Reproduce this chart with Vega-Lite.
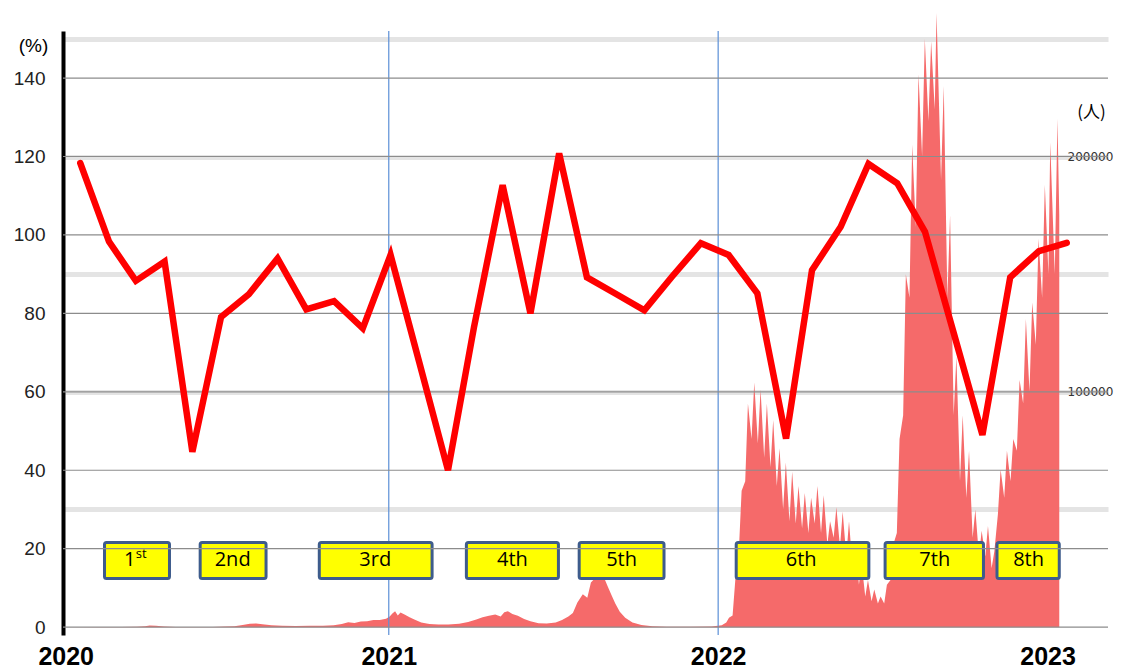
{
  "$schema": "https://vega.github.io/schema/vega-lite/v6.json",
  "width": 1045,
  "height": 604,
  "autosize": {"type": "none"},
  "padding": {"left": 63, "top": 31, "right": 14, "bottom": 36},
  "background": "white",
  "config": {"view": {"stroke": null}},
  "datasets": {
    "cases": [
      {"date": "2020-01-06", "cases": 0},
      {"date": "2020-02-15", "cases": 20},
      {"date": "2020-03-10", "cases": 60},
      {"date": "2020-03-28", "cases": 200},
      {"date": "2020-04-06", "cases": 400},
      {"date": "2020-04-11", "cases": 700},
      {"date": "2020-04-18", "cases": 550},
      {"date": "2020-04-27", "cases": 250},
      {"date": "2020-05-10", "cases": 80},
      {"date": "2020-06-01", "cases": 40},
      {"date": "2020-06-20", "cases": 60},
      {"date": "2020-07-04", "cases": 250},
      {"date": "2020-07-14", "cases": 400},
      {"date": "2020-07-23", "cases": 950},
      {"date": "2020-07-31", "cases": 1500},
      {"date": "2020-08-07", "cases": 1550},
      {"date": "2020-08-14", "cases": 1200},
      {"date": "2020-08-24", "cases": 800},
      {"date": "2020-09-05", "cases": 600},
      {"date": "2020-09-20", "cases": 500},
      {"date": "2020-10-05", "cases": 550},
      {"date": "2020-10-20", "cases": 650},
      {"date": "2020-11-01", "cases": 800},
      {"date": "2020-11-10", "cases": 1300},
      {"date": "2020-11-17", "cases": 2100},
      {"date": "2020-11-24", "cases": 1800},
      {"date": "2020-12-01", "cases": 2400},
      {"date": "2020-12-08", "cases": 2500},
      {"date": "2020-12-15", "cases": 3000},
      {"date": "2020-12-22", "cases": 3000},
      {"date": "2020-12-29", "cases": 3600},
      {"date": "2021-01-02", "cases": 4500},
      {"date": "2021-01-05", "cases": 5800},
      {"date": "2021-01-08", "cases": 6800},
      {"date": "2021-01-11", "cases": 5000},
      {"date": "2021-01-14", "cases": 6200},
      {"date": "2021-01-19", "cases": 5300},
      {"date": "2021-01-24", "cases": 4200},
      {"date": "2021-01-30", "cases": 3200},
      {"date": "2021-02-06", "cases": 2000},
      {"date": "2021-02-15", "cases": 1300},
      {"date": "2021-02-25", "cases": 1100},
      {"date": "2021-03-08", "cases": 1100},
      {"date": "2021-03-20", "cases": 1500},
      {"date": "2021-03-30", "cases": 2200},
      {"date": "2021-04-08", "cases": 3300},
      {"date": "2021-04-15", "cases": 4200},
      {"date": "2021-04-22", "cases": 4800},
      {"date": "2021-04-29", "cases": 5400},
      {"date": "2021-05-05", "cases": 4500},
      {"date": "2021-05-09", "cases": 6300},
      {"date": "2021-05-13", "cases": 6800},
      {"date": "2021-05-18", "cases": 5600},
      {"date": "2021-05-24", "cases": 4800},
      {"date": "2021-05-31", "cases": 3500},
      {"date": "2021-06-07", "cases": 2500},
      {"date": "2021-06-16", "cases": 1700},
      {"date": "2021-06-25", "cases": 1600},
      {"date": "2021-07-05", "cases": 2000},
      {"date": "2021-07-12", "cases": 3000},
      {"date": "2021-07-19", "cases": 4500},
      {"date": "2021-07-24", "cases": 6000},
      {"date": "2021-07-29", "cases": 10500},
      {"date": "2021-08-04", "cases": 14000},
      {"date": "2021-08-09", "cases": 12500},
      {"date": "2021-08-13", "cases": 19000},
      {"date": "2021-08-18", "cases": 21000},
      {"date": "2021-08-21", "cases": 20000},
      {"date": "2021-08-24", "cases": 23500},
      {"date": "2021-08-27", "cases": 21500},
      {"date": "2021-09-01", "cases": 17000},
      {"date": "2021-09-05", "cases": 13500},
      {"date": "2021-09-09", "cases": 10000},
      {"date": "2021-09-14", "cases": 6500},
      {"date": "2021-09-20", "cases": 4000},
      {"date": "2021-09-28", "cases": 2000},
      {"date": "2021-10-08", "cases": 900},
      {"date": "2021-10-20", "cases": 400},
      {"date": "2021-11-05", "cases": 200},
      {"date": "2021-12-01", "cases": 150},
      {"date": "2021-12-25", "cases": 300},
      {"date": "2022-01-05", "cases": 800},
      {"date": "2022-01-10", "cases": 2000},
      {"date": "2022-01-13", "cases": 4000},
      {"date": "2022-01-17", "cases": 5000},
      {"date": "2022-01-20", "cases": 20000},
      {"date": "2022-01-24", "cases": 33000},
      {"date": "2022-01-27", "cases": 58000},
      {"date": "2022-01-31", "cases": 62000},
      {"date": "2022-02-03", "cases": 95000},
      {"date": "2022-02-07", "cases": 80000},
      {"date": "2022-02-10", "cases": 104000},
      {"date": "2022-02-14", "cases": 78000},
      {"date": "2022-02-17", "cases": 101000},
      {"date": "2022-02-21", "cases": 72000},
      {"date": "2022-02-24", "cases": 95000},
      {"date": "2022-02-28", "cases": 68000},
      {"date": "2022-03-03", "cases": 88000},
      {"date": "2022-03-07", "cases": 60000},
      {"date": "2022-03-10", "cases": 76000},
      {"date": "2022-03-14", "cases": 50000},
      {"date": "2022-03-17", "cases": 70000},
      {"date": "2022-03-21", "cases": 45000},
      {"date": "2022-03-24", "cases": 66000},
      {"date": "2022-03-28", "cases": 44000},
      {"date": "2022-03-31", "cases": 60000},
      {"date": "2022-04-04", "cases": 42000},
      {"date": "2022-04-07", "cases": 57000},
      {"date": "2022-04-11", "cases": 40000},
      {"date": "2022-04-14", "cases": 55000},
      {"date": "2022-04-18", "cases": 44000},
      {"date": "2022-04-21", "cases": 60000},
      {"date": "2022-04-25", "cases": 40000},
      {"date": "2022-04-28", "cases": 56000},
      {"date": "2022-05-02", "cases": 35000},
      {"date": "2022-05-05", "cases": 45000},
      {"date": "2022-05-09", "cases": 38000},
      {"date": "2022-05-12", "cases": 51000},
      {"date": "2022-05-16", "cases": 34000},
      {"date": "2022-05-19", "cases": 49000},
      {"date": "2022-05-23", "cases": 30000},
      {"date": "2022-05-26", "cases": 45000},
      {"date": "2022-05-30", "cases": 25000},
      {"date": "2022-06-02", "cases": 36000},
      {"date": "2022-06-06", "cases": 18000},
      {"date": "2022-06-09", "cases": 27000},
      {"date": "2022-06-13", "cases": 13000},
      {"date": "2022-06-16", "cases": 20000},
      {"date": "2022-06-20", "cases": 11000},
      {"date": "2022-06-23", "cases": 16000},
      {"date": "2022-06-27", "cases": 10000},
      {"date": "2022-06-30", "cases": 13000},
      {"date": "2022-07-04", "cases": 10000},
      {"date": "2022-07-07", "cases": 18000},
      {"date": "2022-07-11", "cases": 20000},
      {"date": "2022-07-14", "cases": 35000},
      {"date": "2022-07-18", "cases": 40000},
      {"date": "2022-07-21", "cases": 80000},
      {"date": "2022-07-25", "cases": 90000},
      {"date": "2022-07-28", "cases": 150000},
      {"date": "2022-08-01", "cases": 140000},
      {"date": "2022-08-04", "cases": 205000},
      {"date": "2022-08-08", "cases": 170000},
      {"date": "2022-08-11", "cases": 235000},
      {"date": "2022-08-15", "cases": 200000},
      {"date": "2022-08-18", "cases": 250000},
      {"date": "2022-08-22", "cases": 215000},
      {"date": "2022-08-25", "cases": 249000},
      {"date": "2022-08-29", "cases": 220000},
      {"date": "2022-08-31", "cases": 261000},
      {"date": "2022-09-05", "cases": 190000},
      {"date": "2022-09-08", "cases": 230000},
      {"date": "2022-09-12", "cases": 140000},
      {"date": "2022-09-15", "cases": 175000},
      {"date": "2022-09-19", "cases": 90000},
      {"date": "2022-09-22", "cases": 115000},
      {"date": "2022-09-26", "cases": 62000},
      {"date": "2022-09-29", "cases": 90000},
      {"date": "2022-10-03", "cases": 55000},
      {"date": "2022-10-06", "cases": 75000},
      {"date": "2022-10-10", "cases": 38000},
      {"date": "2022-10-13", "cases": 50000},
      {"date": "2022-10-17", "cases": 30000},
      {"date": "2022-10-20", "cases": 41000},
      {"date": "2022-10-24", "cases": 30000},
      {"date": "2022-10-27", "cases": 43000},
      {"date": "2022-10-31", "cases": 25000},
      {"date": "2022-11-03", "cases": 32000},
      {"date": "2022-11-07", "cases": 48000},
      {"date": "2022-11-10", "cases": 67000},
      {"date": "2022-11-14", "cases": 55000},
      {"date": "2022-11-17", "cases": 75000},
      {"date": "2022-11-21", "cases": 62000},
      {"date": "2022-11-24", "cases": 80000},
      {"date": "2022-11-28", "cases": 75000},
      {"date": "2022-12-01", "cases": 105000},
      {"date": "2022-12-05", "cases": 95000},
      {"date": "2022-12-08", "cases": 131000},
      {"date": "2022-12-12", "cases": 100000},
      {"date": "2022-12-15", "cases": 138000},
      {"date": "2022-12-19", "cases": 120000},
      {"date": "2022-12-22", "cases": 165000},
      {"date": "2022-12-26", "cases": 140000},
      {"date": "2022-12-29", "cases": 188000},
      {"date": "2023-01-02", "cases": 150000},
      {"date": "2023-01-04", "cases": 206000},
      {"date": "2023-01-09", "cases": 150000},
      {"date": "2023-01-12", "cases": 216000},
      {"date": "2023-01-14", "cases": 175000}
    ],
    "ratio": [
      {"month": "2020-01-01", "pct": 118.3},
      {"month": "2020-02-01", "pct": 98.3},
      {"month": "2020-03-01", "pct": 88.3},
      {"month": "2020-04-01", "pct": 93.2},
      {"month": "2020-05-01", "pct": 44.7},
      {"month": "2020-06-01", "pct": 79.1},
      {"month": "2020-07-01", "pct": 84.9},
      {"month": "2020-08-01", "pct": 94.0},
      {"month": "2020-09-01", "pct": 81.0},
      {"month": "2020-10-01", "pct": 83.1},
      {"month": "2020-11-01", "pct": 76.2},
      {"month": "2020-12-01", "pct": 94.9},
      {"month": "2021-01-01", "pct": 67.5},
      {"month": "2021-02-01", "pct": 40.0},
      {"month": "2021-03-01", "pct": 76.4},
      {"month": "2021-04-01", "pct": 112.7},
      {"month": "2021-05-01", "pct": 80.0},
      {"month": "2021-06-01", "pct": 120.8},
      {"month": "2021-07-01", "pct": 89.2},
      {"month": "2021-08-01", "pct": 85.0},
      {"month": "2021-09-01", "pct": 80.8},
      {"month": "2021-10-01", "pct": 89.4},
      {"month": "2021-11-01", "pct": 97.9},
      {"month": "2021-12-01", "pct": 94.9},
      {"month": "2022-01-01", "pct": 85.1},
      {"month": "2022-02-01", "pct": 48.1},
      {"month": "2022-03-01", "pct": 91.0},
      {"month": "2022-04-01", "pct": 102.1},
      {"month": "2022-05-01", "pct": 118.1},
      {"month": "2022-06-01", "pct": 113.2},
      {"month": "2022-07-01", "pct": 100.8},
      {"month": "2022-08-01", "pct": 75.0},
      {"month": "2022-09-01", "pct": 49.0},
      {"month": "2022-10-01", "pct": 89.2},
      {"month": "2022-11-01", "pct": 95.9},
      {"month": "2022-12-01", "pct": 98.0}
    ],
    "waves": [
      {"label": "1", "sup": "st", "start": "2020-02-21", "end": "2020-05-03", "mid": "2020-03-20"},
      {"label": "2nd", "sup": "", "start": "2020-06-06", "end": "2020-08-18", "mid": "2020-07-12"},
      {"label": "3rd", "sup": "", "start": "2020-10-16", "end": "2021-02-18", "mid": "2020-12-17"},
      {"label": "4th", "sup": "", "start": "2021-03-28", "end": "2021-07-08", "mid": "2021-05-18"},
      {"label": "5th", "sup": "", "start": "2021-07-31", "end": "2021-11-02", "mid": "2021-09-16"},
      {"label": "6th", "sup": "", "start": "2022-01-21", "end": "2022-06-17", "mid": "2022-04-03"},
      {"label": "7th", "sup": "", "start": "2022-07-05", "end": "2022-10-22", "mid": "2022-08-29"},
      {"label": "8th", "sup": "", "start": "2022-11-06", "end": "2023-01-14", "mid": "2022-12-11"}
    ],
    "grid": [{"v": 0}, {"v": 20}, {"v": 40}, {"v": 60}, {"v": 80}, {"v": 100}, {"v": 120}, {"v": 140}],
    "years": [{"d": "2021-01-01"}, {"d": "2022-01-01"}]
  },
  "layer": [
    {
      "data": {"name": "cases"},
      "mark": {"type": "area", "color": "#f56a6a", "interpolate": "linear"},
      "encoding": {
        "x": {
          "field": "date", "type": "temporal",
          "scale": {"type": "utc", "domain": [{"year": 2020, "month": 1, "date": 6, "utc": true}, {"year": 2023, "month": 3, "date": 9, "utc": true}]},
          "axis": {
            "values": [{"year": 2020, "month": 1, "date": 9, "utc": true}, {"year": 2021, "month": 1, "date": 1, "utc": true}, {"year": 2022, "month": 1, "date": 1, "utc": true}, {"year": 2023, "month": 1, "date": 1, "utc": true}],
            "labelExpr": "utcFormat(datum.value, '%Y')",
            "title": null, "grid": false, "domain": false, "ticks": false,
            "labelFont": "Liberation Sans", "labelFontWeight": "bold", "labelFontSize": 25, "labelColor": "#000",
            "labelPadding": 9, "labelFlush": false, "labelOverlap": false
          }
        },
        "y": {
          "field": "cases", "type": "quantitative",
          "scale": {"domain": [-3333.33, 253333.33], "nice": false, "zero": false},
          "axis": {
            "orient": "right", "values": [50000, 100000, 150000, 200000, 250000], "format": "d",
            "labelExpr": "datum.value == 100000 || datum.value == 200000 ? datum.label : ''",
            "grid": true, "gridColor": "#e4e4e4", "gridWidth": 5, "domain": false, "ticks": false,
            "labelPadding": -41, "labelFont": "DejaVu Sans", "labelFontSize": 12, "labelColor": "#333",
            "title": "(人)", "titleAngle": 0, "titleX": -17, "titleY": 81, "titleAlign": "center", "titleBaseline": "middle",
            "titleFont": "Noto Sans CJK JP", "titleFontSize": 17, "titleFontWeight": "normal", "titleColor": "#000"
          }
        }
      }
    },
    {
      "layer": [
        {
          "data": {"name": "years"},
          "mark": {"type": "rule", "color": "#5b8fd6", "strokeWidth": 1.2},
          "encoding": {
            "x": {"field": "d", "type": "temporal",
              "scale": {"type": "utc", "domain": [{"year": 2020, "month": 1, "date": 6, "utc": true}, {"year": 2023, "month": 3, "date": 9, "utc": true}]},
              "axis": null}
          }
        },
        {
          "data": {"name": "waves"},
          "mark": {"type": "rect", "fill": "#ffff00", "stroke": "#3e5c8c", "strokeWidth": 3, "cornerRadius": 2},
          "encoding": {
            "x": {"field": "start", "type": "temporal"},
            "x2": {"field": "end"},
            "y": {"datum": 21.6, "type": "quantitative",
              "scale": {"domain": [-2, 152], "nice": false, "zero": false},
              "axis": {
                "values": [0, 20, 40, 60, 80, 100, 120, 140], "grid": false, "ticks": false,
                "domain": true, "domainColor": "#000", "domainWidth": 4,
                "labelFont": "Liberation Sans", "labelFontSize": 19, "labelColor": "#222", "labelPadding": 18,
                "title": "(%)", "titleAngle": 0, "titleX": -30, "titleY": 14, "titleAlign": "center", "titleBaseline": "middle",
                "titleFont": "Liberation Sans", "titleFontSize": 19, "titleFontWeight": "normal", "titleColor": "#000"
              }},
            "y2": {"datum": 12.4}
          }
        },
        {
          "data": {"name": "grid"},
          "mark": {"type": "rule", "color": "#8c8c8c", "strokeWidth": 1.2},
          "encoding": {"y": {"field": "v", "type": "quantitative"}}
        },
        {
          "data": {"name": "waves"},
          "mark": {"type": "text", "font": "Open Sans", "fontSize": 20, "color": "#000", "align": "center", "baseline": "middle"},
          "encoding": {
            "x": {"field": "mid", "type": "temporal"},
            "y": {"datum": 17.2, "type": "quantitative"},
            "text": {"field": "label"}
          }
        },
        {
          "data": {"name": "waves"},
          "transform": [{"filter": "datum.sup != ''"}],
          "mark": {"type": "text", "font": "Open Sans", "fontSize": 13, "color": "#000", "align": "left", "baseline": "middle", "dx": 6, "dy": -6},
          "encoding": {
            "x": {"field": "mid", "type": "temporal"},
            "y": {"datum": 17.2, "type": "quantitative"},
            "text": {"field": "sup"}
          }
        }
      ]
    },
    {
      "layer": [
        {
          "data": {"name": "ratio"},
          "mark": {"type": "line", "color": "#ff0000", "strokeWidth": 6.5, "strokeCap": "round", "strokeJoin": "miter"},
          "encoding": {
            "x": {"field": "month", "type": "temporal",
              "scale": {"type": "utc", "domain": [{"year": 2019, "month": 12, "date": 13, "hours": 8, "utc": true}, {"year": 2023, "month": 1, "date": 14, "hours": 14, "utc": true}]},
              "axis": null},
            "y": {"field": "pct", "type": "quantitative",
              "scale": {"domain": [-2, 152], "nice": false, "zero": false},
              "axis": null}
          }
        },
        {
          "mark": {"type": "rule", "color": "#0070c0", "strokeWidth": 7, "strokeDash": [9.5, 9.5]},
          "encoding": {
            "x": {"datum": {"year": 2019, "month": 12, "date": 13, "hours": 8, "utc": true}, "type": "temporal"},
            "x2": {"datum": {"year": 2022, "month": 12, "date": 6, "hours": 17, "utc": true}},
            "y": {"datum": 99.3, "type": "quantitative"}
          }
        }
      ]
    }
  ],
  "resolve": {"scale": {"x": "independent", "y": "independent"}}
}
